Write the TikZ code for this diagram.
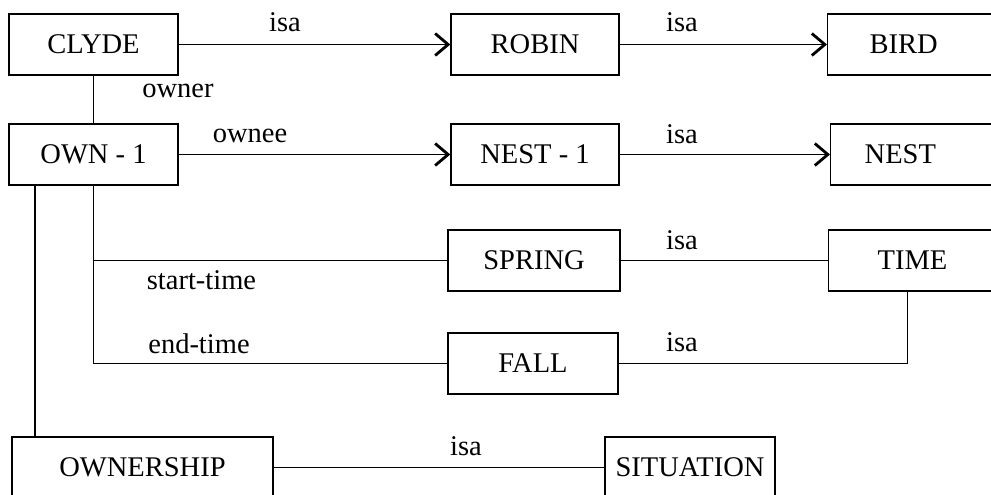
\documentclass[tikz,border=0pt]{standalone}
\usepackage{fontspec}
\setmainfont{Liberation Serif}
\usetikzlibrary{arrows.meta}

\tikzset{
  txt/.style={font=\fontsize{28.5pt}{31pt}\selectfont},
  frame/.style={txt, draw, line width=1.4pt, minimum height=61pt, inner sep=0pt},
  openbox/.style={frame, anchor=west, align=left, text width=120pt},
  link/.style={line width=1.4pt},
  arr/.style={link, -{Straight Barb[length=13pt,width=22pt,line width=2.8pt]}},
  lbl/.style={txt, anchor=base, inner sep=0pt}
}

\begin{document}
\begin{tikzpicture}[x=1pt, y=-1pt]
  \useasboundingbox (0,0) rectangle (991,495);
  \clip (0,0) rectangle (991,495);

  % concept frames
  \node[frame, minimum width=169pt] (CLYDE) at (93.5,44.5) {CLYDE};
  \node[frame, minimum width=168pt] (ROBIN) at (535,44.5) {ROBIN};
  \node[openbox, inner xsep=42pt] (BIRD) at (827,44.5) {BIRD};

  \node[frame, minimum width=169pt] (OWN1) at (93.5,154.5) {OWN - 1};
  \node[frame, minimum width=168pt] (NEST1) at (535,154.5) {NEST - 1};
  \node[openbox, inner xsep=34pt] (NEST) at (830,154.5) {NEST};

  \node[frame, minimum width=172pt] (SPRING) at (534,260.5) {SPRING};
  \node[openbox, inner xsep=49pt] (TIME) at (828,260.5) {TIME};

  \node[frame, minimum width=170pt] (FALL) at (533,363.5) {FALL};

  \node[frame, minimum width=261pt] (OWNERSHIP) at (142.5,467.5) {OWNERSHIP};
  \node[frame, minimum width=170pt] (SITUATION) at (690,467.5) {SITUATION};

  % relations
  \draw[arr] (CLYDE) -- (ROBIN);
  \draw[arr] (ROBIN) -- (BIRD);
  \draw[link] (CLYDE.south) -- (OWN1.north);
  \draw[arr] (OWN1) -- (NEST1);
  \draw[arr] (NEST1) -- (NEST);

  \draw[link] (OWN1.south) |- (FALL.west);
  \draw[link] (OWN1.south |- SPRING.west) -- (SPRING.west);
  \draw[link] (SPRING) -- (TIME);
  \draw[link] (FALL.east) -| ([xshift=-30pt]TIME.south);

  \draw[link] ([xshift=-58.5pt]OWN1.south) -- ([xshift=-58.5pt]OWN1.south |- OWNERSHIP.north);
  \draw[link] (OWNERSHIP) -- (SITUATION);

  % relation labels
  \node[lbl] (l1) at (285,32) {isa};
  \node[lbl] (l2) at (682,32) {isa};
  \node[lbl] (l3) at (178,97) {owner};
  \node[lbl] (l4) at (250,142) {ownee};
  \node[lbl] (l5) at (682,143) {isa};
  \node[lbl] (l6) at (201.5,289) {start-time};
  \node[lbl] (l7) at (682,249) {isa};
  \node[lbl] (l8) at (199,353) {end-time};
  \node[lbl] (l9) at (682,351) {isa};
  \node[lbl] (l10) at (466,455) {isa};
\end{tikzpicture}
\end{document}
